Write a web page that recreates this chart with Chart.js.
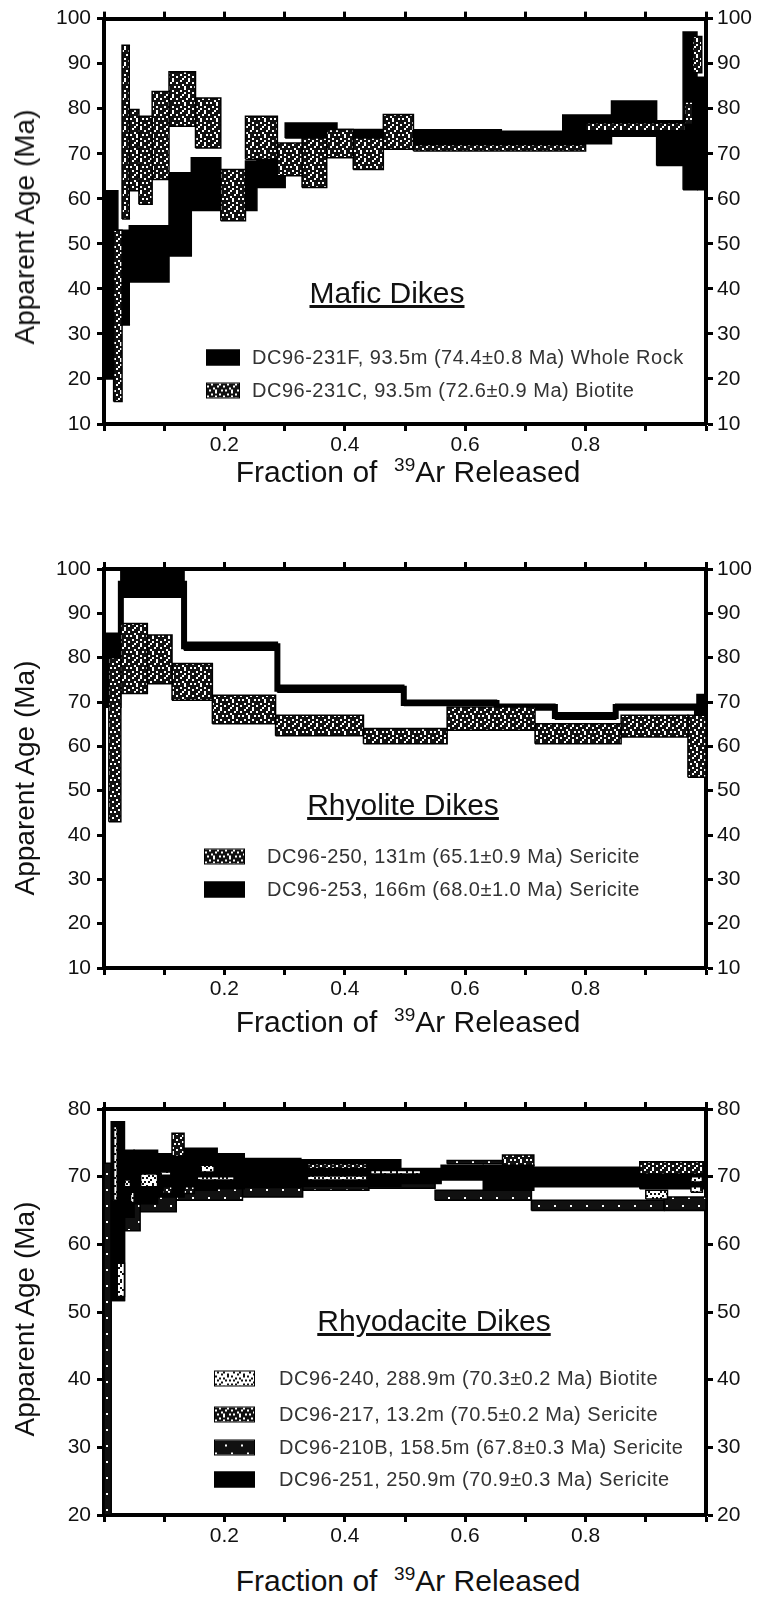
<html>
<head>
<script src="https://cdn.jsdelivr.net/npm/chart.js"></script>
<style>
  body { margin: 0; width: 757px; height: 1599px; position: relative; overflow: hidden; background: #fff;
         font-family: "Liberation Sans", Arial, sans-serif; color: #111; }
  canvas { position: absolute; left: 0; }
  .ytitle { position: absolute; font-size: 28px; white-space: nowrap; transform: translate(-50%, -50%) rotate(-90deg); }
  .xtitle { position: absolute; font-size: 30px; white-space: nowrap; transform: translate(-50%, -50%); }
  .xtitle sup { font-size: 19px; }
  .ptitle { position: absolute; font-size: 30px; white-space: nowrap; text-decoration: underline; transform: translate(-50%, -50%); }
  .leg { position: absolute; font-size: 20px; letter-spacing: 0.5px; white-space: nowrap; display: flex; align-items: center; color: #333; transform: translateY(-50%); }
  .sw { height: 16px; border: 1px solid #000; box-sizing: border-box; }
</style>
</head>
<body>

<canvas id="c1" width="757" height="460" style="top:0px"></canvas>
<canvas id="c2" width="757" height="455" style="top:549px"></canvas>
<canvas id="c3" width="757" height="462" style="top:1089px"></canvas>

<!-- panel 1 -->
<div class="ytitle" style="left:25px; top:227px">Apparent Age (Ma)</div>
<div class="xtitle" style="left:408px; top:471px">Fraction of &nbsp;<sup>39</sup>Ar Released</div>
<div class="ptitle" style="left:387px; top:293px">Mafic Dikes</div>
<div class="leg" style="left:206px; top:357px"><span class="sw" data-fill="black" style="width:34px; margin-right:12px"></span><span class="lt" data-p="0" data-i="0"></span></div>
<div class="leg" style="left:206px; top:390px"><span class="sw" data-fill="med" style="width:34px; margin-right:12px"></span><span class="lt" data-p="0" data-i="1"></span></div>

<!-- panel 2 -->
<div class="ytitle" style="left:25px; top:778px">Apparent Age (Ma)</div>
<div class="xtitle" style="left:408px; top:1021px">Fraction of &nbsp;<sup>39</sup>Ar Released</div>
<div class="ptitle" style="left:403px; top:805px">Rhyolite Dikes</div>
<div class="leg" style="left:204px; top:856px"><span class="sw" data-fill="med" style="width:41px; margin-right:22px"></span><span class="lt" data-p="1" data-i="0"></span></div>
<div class="leg" style="left:204px; top:889px"><span class="sw" data-fill="black" style="width:41px; margin-right:22px"></span><span class="lt" data-p="1" data-i="1"></span></div>

<!-- panel 3 -->
<div class="ytitle" style="left:25px; top:1319px">Apparent Age (Ma)</div>
<div class="xtitle" style="left:408px; top:1580px">Fraction of &nbsp;<sup>39</sup>Ar Released</div>
<div class="ptitle" style="left:434px; top:1321px">Rhyodacite Dikes</div>
<div class="leg" style="left:214px; top:1378px"><span class="sw" data-fill="light" style="width:41px; margin-right:24px"></span><span class="lt" data-p="2" data-i="0"></span></div>
<div class="leg" style="left:214px; top:1414px"><span class="sw" data-fill="med" style="width:41px; margin-right:24px"></span><span class="lt" data-p="2" data-i="1"></span></div>
<div class="leg" style="left:214px; top:1447px"><span class="sw" data-fill="dark" style="width:41px; margin-right:24px"></span><span class="lt" data-p="2" data-i="2"></span></div>
<div class="leg" style="left:214px; top:1479px"><span class="sw" data-fill="black" style="width:41px; margin-right:24px"></span><span class="lt" data-p="2" data-i="3"></span></div>

<script>
// every step is [39Ar fraction start, fraction end, age low (Ma), age high (Ma)]
const fracTicks = [0.2, 0.4, 0.6, 0.8];

// --- Mafic dikes ---
const maficAgeRange = [10, 100];
const mafic231F = [
  [0.000, 0.023, 20.0, 61.8], [0.023, 0.042, 32.0, 53.0], [0.042, 0.108, 41.5, 54.0],
  [0.108, 0.145, 47.3, 65.8], [0.145, 0.194, 57.4, 69.1], [0.194, 0.235, 58.0, 66.0],
  [0.235, 0.254, 57.4, 68.4], [0.254, 0.301, 62.5, 68.5], [0.301, 0.387, 73.5, 76.8],
  [0.387, 0.464, 73.5, 75.4], [0.464, 0.660, 72.0, 75.3], [0.660, 0.762, 72.0, 75.0],
  [0.762, 0.843, 72.2, 78.6], [0.843, 0.918, 73.9, 81.7], [0.918, 0.962, 67.4, 77.3],
  [0.962, 0.985, 62.0, 97.0], [0.985, 1.000, 62.0, 87.0]
];
const mafic231C = [
  [0.016, 0.030, 15.0, 53.0], [0.030, 0.042, 55.5, 94.1], [0.042, 0.058, 61.8, 79.8],
  [0.058, 0.080, 58.8, 78.3], [0.080, 0.108, 64.3, 83.8], [0.108, 0.152, 76.1, 88.2],
  [0.152, 0.194, 71.3, 82.4], [0.194, 0.235, 55.1, 66.5], [0.235, 0.288, 68.8, 78.3],
  [0.288, 0.329, 65.1, 72.4], [0.329, 0.370, 62.5, 73.5], [0.370, 0.414, 69.1, 75.4],
  [0.414, 0.464, 66.5, 73.5], [0.464, 0.514, 71.0, 78.7], [0.514, 0.800, 70.6, 72.0],
  [0.800, 0.965, 75.1, 76.8], [0.965, 0.978, 76.5, 81.5], [0.978, 0.993, 88.0, 96.0]
];
const maficLegend = [
  'DC96-231F, 93.5m (74.4\u00b10.8 Ma) Whole Rock',
  'DC96-231C, 93.5m (72.6\u00b10.9 Ma) Biotite'
];

// --- Rhyolite dikes ---
const rhyoliteAgeRange = [10, 100];
const rhy250 = [
  [0.008, 0.028, 43.0, 80.0], [0.028, 0.072, 71.9, 87.7], [0.072, 0.113, 74.1, 85.1],
  [0.113, 0.180, 70.4, 78.7], [0.180, 0.285, 65.1, 71.5], [0.285, 0.431, 62.4, 67.0],
  [0.431, 0.570, 60.6, 64.0], [0.570, 0.716, 63.6, 68.9], [0.716, 0.859, 60.6, 65.1],
  [0.859, 0.970, 62.1, 67.0], [0.970, 1.000, 53.0, 67.0]
];
const rhy253 = [
  [0.000, 0.028, 68.8, 85.5], [0.028, 0.133, 93.6, 99.8], [0.133, 0.288, 81.7, 83.5],
  [0.288, 0.498, 72.2, 73.8], [0.498, 0.652, 69.2, 70.4], [0.652, 0.749, 68.2, 69.5],
  [0.749, 0.850, 66.1, 67.6], [0.850, 0.985, 68.2, 69.5], [0.985, 1.000, 62.5, 71.7]
];
const rhyoliteLegend = [
  'DC96-250, 131m (65.1\u00b10.9 Ma) Sericite',
  'DC96-253, 166m (68.0\u00b11.0 Ma) Sericite'
];

// --- Rhyodacite dikes ---
const rhyodaciteAgeRange = [20, 80];
const rdc210B = [
  [0.000, 0.012, 20.0, 72.0], [0.012, 0.034, 51.7, 62.0], [0.034, 0.060, 62.0, 70.0],
  [0.060, 0.120, 64.8, 70.0], [0.120, 0.230, 66.5, 70.0], [0.230, 0.330, 67.0, 70.0],
  [0.330, 0.440, 68.0, 70.0], [0.440, 0.550, 68.3, 70.0], [0.550, 0.710, 66.5, 68.0],
  [0.710, 0.930, 65.0, 66.5], [0.930, 1.000, 65.0, 67.0]
];
const rdc251 = [
  [0.012, 0.034, 51.7, 78.1], [0.034, 0.050, 64.0, 73.9], [0.050, 0.089, 66.0, 73.9],
  [0.089, 0.133, 67.0, 73.4], [0.133, 0.188, 68.0, 74.2], [0.188, 0.233, 68.2, 73.4],
  [0.233, 0.327, 68.4, 72.7], [0.327, 0.493, 68.6, 72.5], [0.493, 0.560, 69.0, 71.2],
  [0.560, 0.630, 69.5, 71.7], [0.630, 0.714, 68.0, 71.7], [0.714, 0.890, 68.5, 71.4],
  [0.890, 1.000, 68.2, 71.4]
];
const rdc217 = [
  [0.098, 0.113, 67.5, 68.5], [0.113, 0.133, 73.0, 76.4], [0.133, 0.150, 67.5, 68.5],
  [0.338, 0.437, 71.2, 71.9], [0.570, 0.662, 71.9, 72.4], [0.662, 0.714, 71.7, 73.2],
  [0.890, 0.996, 70.4, 72.2]
];
const rdc240 = [
  [0.016, 0.022, 66.5, 77.4], [0.022, 0.034, 52.3, 57.2], [0.034, 0.044, 68.5, 69.5],
  [0.044, 0.050, 66.2, 67.7], [0.061, 0.089, 68.5, 70.4], [0.094, 0.111, 70.2, 70.7],
  [0.155, 0.216, 69.5, 70.0], [0.161, 0.183, 70.7, 71.7], [0.338, 0.437, 69.5, 70.1],
  [0.443, 0.526, 70.4, 70.9], [0.900, 0.936, 66.7, 68.0], [0.975, 0.994, 69.2, 70.0],
  [0.975, 0.994, 67.7, 68.5]
];
const rhyodaciteLegend = [
  'DC96-240, 288.9m (70.3\u00b10.2 Ma) Biotite',
  'DC96-217, 13.2m (70.5\u00b10.2 Ma) Sericite',
  'DC96-210B, 158.5m (67.8\u00b10.3 Ma) Sericite',
  'DC96-251, 250.9m (70.9\u00b10.3 Ma) Sericite'
];

// stipple tiles, '#' = ink
const tiles = {
  med: ['##.###.#', '.####.##', '###.####', '#.##.##.', '####.###', '##.###.#', '.###.###', '###.##.#'],
  light: ['.#..#...', '...#..#.', '#.....#.', '..#.#...', '.#...#.#', '...#....', '#.#...#.', '....#..#'],
  dark: ['########', '########', '#####.##', '########', '########', '########', '.#######', '########']
};

function tileCanvas(rows) {
  const c = document.createElement('canvas');
  c.width = rows[0].length * 2;
  c.height = rows.length * 2;
  const g = c.getContext('2d');
  g.fillStyle = '#fff';
  g.fillRect(0, 0, c.width, c.height);
  g.fillStyle = '#111';
  rows.forEach((r, j) => [...r].forEach((ch, i) => { if (ch === '#') g.fillRect(i * 2, j * 2, 2, 2); }));
  return c;
}

const tileCanvases = {};
const fills = { black: '#000' };
const pctx = document.createElement('canvas').getContext('2d');
for (const k in tiles) {
  tileCanvases[k] = tileCanvas(tiles[k]);
  fills[k] = pctx.createPattern(tileCanvases[k], 'repeat');
}

const legends = [maficLegend, rhyoliteLegend, rhyodaciteLegend];
document.querySelectorAll('.lt').forEach(el => { el.textContent = legends[+el.dataset.p][+el.dataset.i]; });
document.querySelectorAll('.sw').forEach(el => {
  const f = el.dataset.fill;
  if (f === 'black') el.style.background = '#000';
  else el.style.backgroundImage = 'url(' + tileCanvases[f].toDataURL() + ')';
});

// layers listed bottom first
const panels = [
  { id: 'c1', padTop: 15, plotH: 409, range: maficAgeRange,
    layers: [{ steps: mafic231F, fill: 'black' }, { steps: mafic231C, fill: 'med' }] },
  { id: 'c2', padTop: 20, plotH: 399, range: rhyoliteAgeRange,
    layers: [{ steps: rhy253, fill: 'black', connect: true }, { steps: rhy250, fill: 'med' }] },
  { id: 'c3', padTop: 20, plotH: 406, range: rhyodaciteAgeRange,
    layers: [{ steps: rdc210B, fill: 'dark' }, { steps: rdc251, fill: 'black' },
             { steps: rdc217, fill: 'med' }, { steps: rdc240, fill: 'light' }] }
];

const tickFont = { family: 'Liberation Sans', size: 21 };

function frameGrid() {
  return { drawOnChartArea: false, drawTicks: true, tickLength: 7, tickWidth: 3, color: '#000' };
}

function makePanel(p) {
  const datasets = [];
  p.layers.forEach((layer, k) => {
    const order = 20 - k;
    if (layer.connect) {
      datasets.push({
        data: layer.steps.flatMap(s => [{ x: s[0], y: (s[2] + s[3]) / 2 }, { x: s[1], y: (s[2] + s[3]) / 2 }]),
        fill: false, borderColor: '#000', borderWidth: 6, pointRadius: 0, order: order
      });
    }
    layer.steps.forEach(s => datasets.push({
      data: [{ x: s[0], y: s[2] }, { x: s[1], y: s[2] }, { x: s[1], y: s[3] }, { x: s[0], y: s[3] }, { x: s[0], y: s[2] }],
      fill: 'shape', backgroundColor: fills[layer.fill], borderColor: '#000', borderWidth: 1.5,
      pointRadius: 0, order: order
    }));
  });

  const bottomH = 36;
  new Chart(document.getElementById(p.id), {
    type: 'line',
    data: { datasets },
    options: {
      responsive: false,
      animation: false,
      events: [],
      layout: { padding: 0 },
      plugins: { legend: { display: false }, tooltip: { enabled: false } },
      scales: {
        x: {
          type: 'linear', position: 'bottom', min: 0, max: 1,
          ticks: {
            stepSize: 0.1, autoSkip: false, maxRotation: 0, padding: 2, color: '#111', font: tickFont,
            callback: v => fracTicks.some(t => Math.abs(t - v) < 1e-6) ? v.toFixed(1) : ''
          },
          grid: frameGrid(),
          border: { width: 4, color: '#000' },
          afterFit: s => { s.height = bottomH; }
        },
        x2: {
          type: 'linear', position: 'top', min: 0, max: 1,
          ticks: { stepSize: 0.1, display: false },
          grid: frameGrid(),
          border: { width: 4, color: '#000' },
          afterFit: s => { s.height = p.padTop; }
        },
        y: {
          type: 'linear', position: 'left', min: p.range[0], max: p.range[1],
          ticks: { stepSize: 10, padding: 6, color: '#111', font: tickFont },
          grid: frameGrid(),
          border: { width: 4, color: '#000' },
          afterFit: s => { s.width = 104; }
        },
        y2: {
          type: 'linear', position: 'right', min: p.range[0], max: p.range[1],
          ticks: { stepSize: 10, padding: 4, color: '#111', font: tickFont },
          grid: frameGrid(),
          border: { width: 4, color: '#000' },
          afterFit: s => { s.width = 51; }
        }
      }
    }
  });
}

panels.forEach(makePanel);
</script>
</body>
</html>
